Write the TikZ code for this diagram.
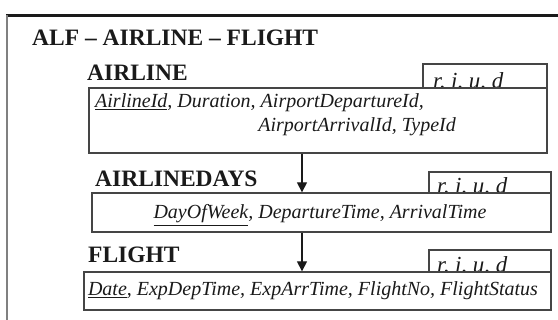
\documentclass[tikz,border=0pt]{standalone}
\usepackage{fontspec}
\setmainfont{Liberation Serif}
\usetikzlibrary{arrows.meta}
\definecolor{ink}{HTML}{1A1A1A}
\definecolor{boxline}{HTML}{454545}
\tikzset{
  mainbox/.style={draw=boxline, line width=1.3pt, fill=white, inner sep=0pt},
  riudbox/.style={draw=boxline, line width=1.3pt, inner sep=0pt},
  riudtext/.style={anchor=base west, inner sep=0pt, font=\fontsize{23}{25}\selectfont\itshape, text=ink},
  headtext/.style={anchor=base west, inner sep=0pt, font=\fontsize{23.5}{25}\selectfont\bfseries, text=ink},
  attrtext/.style={inner sep=0pt, font=\fontsize{20}{22}\selectfont\itshape, text=ink},
  arr/.style={draw=ink, line width=1.3pt, -{Triangle[length=10pt,width=10pt]}}
}
\begin{document}
\begin{tikzpicture}[x=1pt,y=-1pt]
\useasboundingbox (0,0) rectangle (558,320);
% frame
\draw[line width=2.5pt, ink] (6,15.5) -- (558,15.5);
\draw[line width=2pt, gray] (6.5,15) -- (6.5,320);
% title
\node[headtext] (title) at (32,45.5) {ALF – AIRLINE – FLIGHT};
% AIRLINE
\node[headtext] (airlbl) at (87,81) {AIRLINE};
\node[riudbox, minimum width=124pt, minimum height=24pt] (riud1) at (485,76) {};
\node[riudtext] (riudt1) at (433,89) {r, i, u, d};
\node[mainbox, minimum width=458pt, minimum height=65pt] (airbox) at (318,120.5) {};
\node[attrtext, anchor=base west] (air1) at (95,108) {\underline{AirlineId}, Duration, AirportDepartureId,};
\node[attrtext, anchor=base east] (air2) at (456,132) {AirportArrivalId, TypeId};
% AIRLINEDAYS
\node[headtext] (dayslbl) at (95,187) {AIRLINEDAYS};
\node[riudbox, minimum width=122pt, minimum height=21pt] (riud2) at (490,182.5) {};
\node[riudtext] (riudt2) at (437,194) {r, i, u, d};
\node[mainbox, minimum width=459pt, minimum height=39pt] (daysbox) at (321.5,212.5) {};
\node[attrtext, anchor=base] (days1) at (320,219) {\underline{DayOfWeek}, DepartureTime, ArrivalTime};
% FLIGHT
\node[headtext] (fltlbl) at (88,263) {FLIGHT};
\node[riudbox, minimum width=122pt, minimum height=22pt] (riud3) at (490,261) {};
\node[riudtext] (riudt3) at (437,273) {r, i, u, d};
\node[mainbox, minimum width=467pt, minimum height=38pt] (fltbox) at (317.5,291) {};
\node[attrtext, anchor=base] (flt1) at (313,296) {\underline{Date}, ExpDepTime, ExpArrTime, FlightNo, FlightStatus};
% arrows
\coordinate (ax) at (302,0);
\draw[arr] (airbox.south -| ax) -- (daysbox.north -| ax);
\draw[arr] (daysbox.south -| ax) -- (fltbox.north -| ax);
\end{tikzpicture}
\end{document}
